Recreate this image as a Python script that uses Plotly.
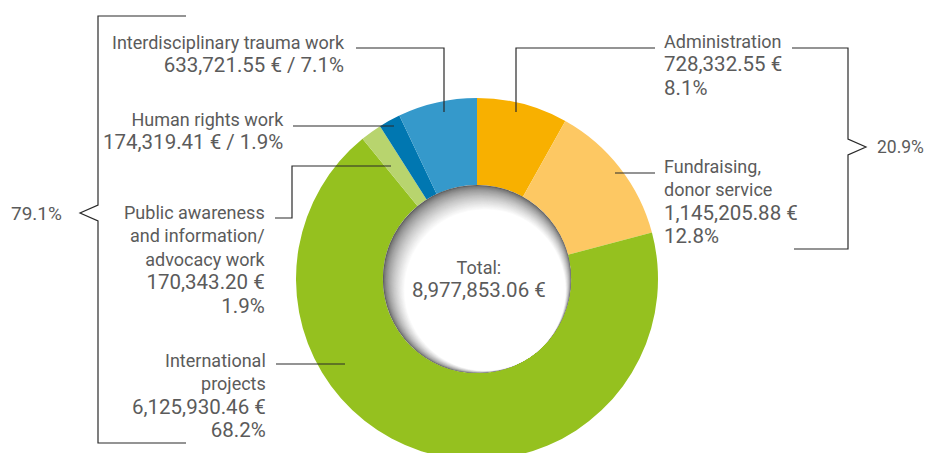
import plotly.graph_objects as go

# ---------------- data ----------------
categories = ["Administration", "Fundraising, donor service", "International projects",
              "Public awareness and information/ advocacy work", "Human rights work",
              "Interdisciplinary trauma work"]
label_lines = ["Administration", "Fundraising,<br>donor service", "International<br>projects",
               "Public awareness<br>and information/<br>advocacy work", "Human rights work",
               "Interdisciplinary trauma work"]
values = [728332.55, 1145205.88, 6125930.46, 170343.20, 174319.41, 633721.55]
colors = ["#F8B000", "#FDC863", "#95C11F", "#B8D46E", "#0077B1", "#3599CB"]
total_value = 8977853.06
group_right = [0, 1]          # indices bracketed on the right
group_left = [2, 3, 4, 5]     # indices bracketed on the left

# coordinates below are window pixels; the page margin is removed in post_script
W, H = 927, 461
TXT = "#5b5b5b"
LINE = "#2a2a2a"
FONT = "Roboto"
FS = 18
NUM_FS = 20.5


def fx(x):
    return x / W


def fy(y):
    return 1 - y / H


def num(s):
    return f'<span style="font-size:{NUM_FS}px">{s}</span>'


def eur(v):
    return f"{v:,.2f} €"


def pct(v):
    return f"{100 * v / total_value:.1f}%"


# pie geometry (window pixels)
cx, cy, R = 477, 279, 181
hole = 0.52

fig = go.Figure()
fig.add_trace(go.Pie(
    labels=categories, values=values, sort=False, direction="clockwise", rotation=0,
    hole=hole, marker=dict(colors=colors, line=dict(width=0)), textinfo="none",
    hoverinfo="label+value+percent", showlegend=False,
    domain=dict(x=[fx(cx - R), fx(cx + R)], y=[max(0, fy(cy + R)), fy(cy - R)]),
))

shapes = []
# inner shadow of the hole (concentric tangent circles)
r_in = hole * R
ox, oy = 8, 11
s = (ox ** 2 + oy ** 2) ** 0.5
N = 30
for i in range(N + 1):
    t = i / N
    g = int(round(92 + 163 * (t ** 0.6)))
    r = r_in - t * s
    ccx, ccy = cx + t * ox, cy + t * oy
    shapes.append(dict(type="circle", xref="paper", yref="paper",
                       x0=fx(ccx - r), x1=fx(ccx + r), y0=fy(ccy + r), y1=fy(ccy - r),
                       fillcolor=f"rgb({g},{g},{g})", line=dict(width=0), layer="above"))


def path(points):
    d = "M " + " L ".join(f"{fx(x)},{fy(y)}" for x, y in points)
    shapes.append(dict(type="path", xref="paper", yref="paper", path=d,
                       line=dict(color=LINE, width=1.2), layer="above"))


# leader lines
path([(356, 48), (444, 48), (444, 112)])           # trauma
path([(293, 126), (394, 126)])                      # human rights
path([(275, 218), (292, 218), (292, 166), (391, 166)])  # public awareness
path([(276, 364), (345, 364)])                      # international
path([(655, 48), (516, 48), (516, 112)])            # administration
path([(615, 173), (655, 173)])                      # fundraising
# brackets
path([(186, 16), (98, 16), (98, 205), (80, 213), (98, 221), (98, 443), (186, 443)])
path([(792, 48), (848, 48), (848, 139), (866, 147), (848, 155), (848, 249), (794, 249)])

annotations = []


def ann(text, x, y, xanchor, align, size=FS):
    annotations.append(dict(text=text, xref="paper", yref="paper", x=fx(x), y=fy(y),
                            xanchor=xanchor, yanchor="middle", align=align, showarrow=False,
                            borderpad=0, font=dict(family=FONT, size=size, color=TXT)))


ann(f"{label_lines[5]}<br>{num(eur(values[5]) + ' / ' + pct(values[5]))}", 346, 54, "right", "right")
ann(f"{label_lines[4]}<br>{num(eur(values[4]) + ' / ' + pct(values[4]))}", 285, 131.5, "right", "right")
ann(f"{label_lines[3]}<br>{num(eur(values[3]))}<br>{num(pct(values[3]))}", 267, 259.5, "right", "right")
ann(f"{label_lines[2]}<br>{num(eur(values[2]))}<br>{num(pct(values[2]))}", 267, 395.5, "right", "right")
ann(f"{label_lines[0]}<br>{num(eur(values[0]))}<br>{num(pct(values[0]))}", 663, 65.5, "left", "left")
ann(f"{label_lines[1]}<br>{num(eur(values[1]))}<br>{num(pct(values[1]))}", 663, 202, "left", "left")
ann(pct(sum(values[i] for i in group_left)), 10, 213, "left", "left", 19)
ann(pct(sum(values[i] for i in group_right)), 925, 147, "right", "right", 17.5)
ann(f"Total:<br>{num(eur(total_value))}", 479, 279, "center", "center")

fig.update_layout(
    width=W, height=H, margin=dict(l=0, r=0, t=0, b=0),
    paper_bgcolor="white", plot_bgcolor="white",
    shapes=shapes, annotations=annotations, showlegend=False,
)
fig.write_html(
    "out.html",
    config={"displayModeBar": False},
    post_script=("document.body.style.margin='0';"
                 "document.body.style.overflow='hidden';"
                 "document.documentElement.style.overflow='hidden';"),
)
